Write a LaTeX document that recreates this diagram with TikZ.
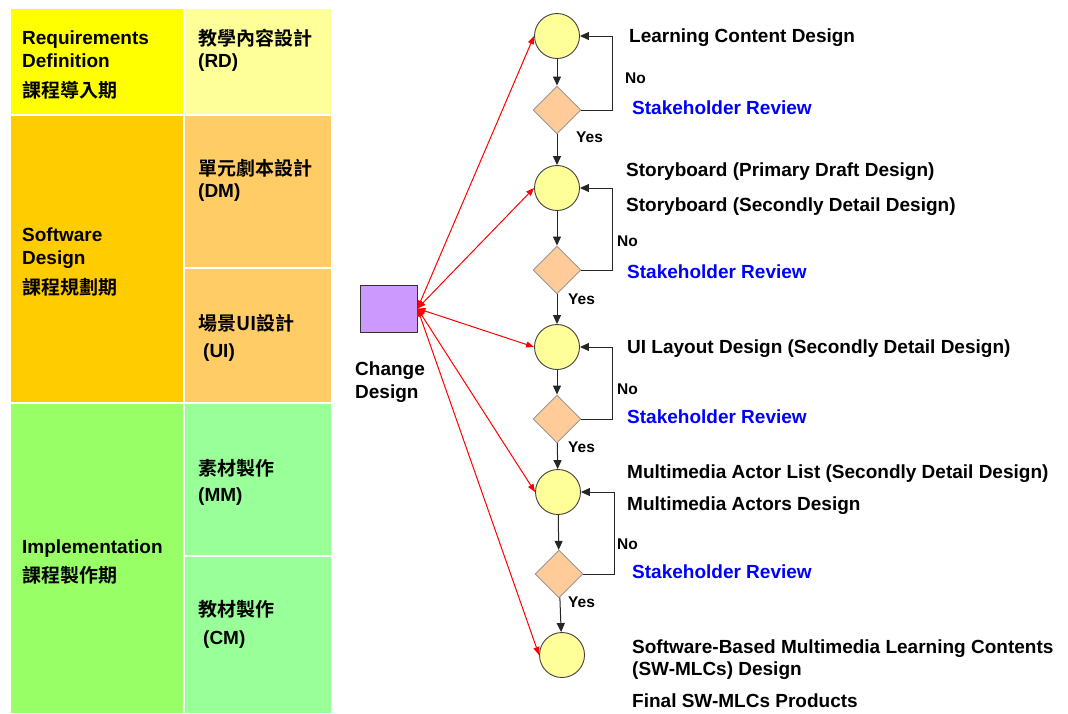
\documentclass[tikz,border=0pt]{standalone}
\usepackage{fontspec}
\setmainfont{Liberation Sans}
\newfontfamily\cjk{Noto Sans CJK TC}[BoldFont={Noto Sans CJK TC Bold}]
\usepackage{tikz}
\usetikzlibrary{positioning,arrows.meta,shapes.geometric}
\definecolor{phReq}{HTML}{FFFF00}
\definecolor{phReqSub}{HTML}{FFFF99}
\definecolor{phSw}{HTML}{FFCC00}
\definecolor{phSwSub}{HTML}{FFCC66}
\definecolor{phImp}{HTML}{99FF66}
\definecolor{phImpSub}{HTML}{99FF99}
\definecolor{fcPeach}{HTML}{FFCC99}
\definecolor{fcLilac}{HTML}{CC99FF}
\tikzset{
  fccell/.style={draw=white, line width=1.5pt},
  fclab/.style={anchor=base west, inner sep=0pt, font=\fontsize{19}{21}\selectfont\bfseries},
  fccjk/.style={anchor=base west, inner sep=0pt, font=\fontsize{19}{21}\selectfont\cjk\bfseries},
  fcsmall/.style={anchor=base west, inner sep=0pt, font=\fontsize{15.5}{17}\selectfont\bfseries},
  fcrev/.style={fclab, text=blue},
  fcstage/.style={circle, draw=black!75, fill=phReqSub, line width=0.9pt, minimum size=45pt,
                  inner sep=0pt},
  fccheck/.style={diamond, draw=black!40, fill=fcPeach, line width=0.9pt,
                  minimum width=48pt, minimum height=48pt, inner sep=0pt},
  fcflow/.style={draw=black!85, line width=1pt, -{Triangle[length=9pt,width=8pt]}},
  fcback/.style={draw=red, line width=1pt,
                 {Triangle[length=8pt,width=6pt]}-{Triangle[length=8pt,width=6pt]}},
}

\begin{document}
\begin{tikzpicture}[x=1pt,y=-1pt]
  \useasboundingbox[fill=white] (0,0) rectangle (1068,713);

  % phase table
  \filldraw[fccell, fill=phReq]    (10,8)    rectangle (184,115);
  \filldraw[fccell, fill=phReqSub] (184,8)   rectangle (332,115);
  \filldraw[fccell, fill=phSw]     (10,115)  rectangle (184,403);
  \filldraw[fccell, fill=phSwSub]  (184,115) rectangle (332,268);
  \filldraw[fccell, fill=phSwSub]  (184,268) rectangle (332,403);
  \filldraw[fccell, fill=phImp]    (10,403)  rectangle (184,714);
  \filldraw[fccell, fill=phImpSub] (184,403) rectangle (332,556);
  \filldraw[fccell, fill=phImpSub] (184,556) rectangle (332,714);

  \node[fclab] (rq1) at (22,44) {Requirements};
  \node[fclab] (rq2) at (22,67) {Definition};
  \node[fccjk] (rq3) at (22,97) {課程導入期};
  \node[fccjk] (rd1) at (198,45) {教學內容設計};
  \node[fclab] (rd2) at (198,67) {(RD)};

  \node[fclab] (sw1) at (22,241) {Software};
  \node[fclab] (sw2) at (22,264) {Design};
  \node[fccjk] (sw3) at (22,294) {課程規劃期};
  \node[fccjk] (dm1) at (198,175) {單元劇本設計};
  \node[fclab] (dm2) at (198,197) {(DM)};
  \node[fccjk] (ui1) at (198,330) {場景UI設計};
  \node[fclab] (ui2) at (203,357) {(UI)};

  \node[fclab] (im1) at (22,553) {Implementation};
  \node[fccjk] (im2) at (22,582) {課程製作期};
  \node[fccjk] (mm1) at (198,475) {素材製作};
  \node[fclab] (mm2) at (198,501) {(MM)};
  \node[fccjk] (cm1) at (198,616) {教材製作};
  \node[fclab] (cm2) at (203,644) {(CM)};

  % flow of stages and reviews
  \node[fcstage] (c1) at (557,36)  {};
  \node[fccheck] (d1) at (557,110) {};
  \node[fcstage] (c2) at (557,188) {};
  \node[fccheck] (d2) at (557,270) {};
  \node[fcstage] (c3) at (557,347) {};
  \node[fccheck] (d3) at (557,419) {};
  \node[fcstage] (c4) at (558,492) {};
  \node[fccheck] (d4) at (559,574) {};
  \node[fcstage] (c5) at (562,655) {};

  \draw[fcflow] (c1) -- (d1);
  \draw[fcflow] (d1) -- (c2);
  \draw[fcflow] (c2) -- (d2);
  \draw[fcflow] (d2) -- (c3);
  \draw[fcflow] (c3) -- (d3);
  \draw[fcflow] (d3) -- (c4);
  \draw[fcflow] (c4) -- (d4);
  \draw[fcflow] (d4) -- (c5);
  \draw[fcflow] (d1.east) -- ++(31,0) |- (c1.east);
  \draw[fcflow] (d2.east) -- ++(31,0) |- (c2.east);
  \draw[fcflow] (d3.east) -- ++(31,0) |- (c3.east);
  \draw[fcflow] (d4.east) -- ++(31,0) |- (c4.east);

  \node[fcsmall] (n1) at (625,83)  {No};
  \node[fcsmall] (n2) at (617,246) {No};
  \node[fcsmall] (n3) at (617,394) {No};
  \node[fcsmall] (n4) at (617,549) {No};
  \node[fcsmall] (y1) at (576,142) {Yes};
  \node[fcsmall] (y2) at (568,304) {Yes};
  \node[fcsmall] (y3) at (568,452) {Yes};
  \node[fcsmall] (y4) at (568,607) {Yes};

  \node[fclab] (t1)  at (629,42)  {Learning Content Design};
  \node[fcrev] (r1)  at (632,114) {Stakeholder Review};
  \node[fclab] (t2a) at (626,176) {Storyboard (Primary Draft Design)};
  \node[fclab] (t2b) at (626,211) {Storyboard (Secondly Detail Design)};
  \node[fcrev] (r2)  at (627,278) {Stakeholder Review};
  \node[fclab] (t3)  at (627,353) {UI Layout Design (Secondly Detail Design)};
  \node[fcrev] (r3)  at (627,423) {Stakeholder Review};
  \node[fclab] (t4a) at (627,478) {Multimedia Actor List (Secondly Detail Design)};
  \node[fclab] (t4b) at (627,510) {Multimedia Actors Design};
  \node[fcrev] (r4)  at (632,578) {Stakeholder Review};
  \node[fclab] (t5a) at (632,653) {Software-Based Multimedia Learning Contents};
  \node[fclab] (t5b) at (632,675) {(SW-MLCs) Design};
  \node[fclab] (t5c) at (632,707) {Final SW-MLCs Products};

  % change design box
  \node[draw=black!80, fill=fcLilac, line width=0.9pt, minimum width=57pt,
        minimum height=47pt, inner sep=0pt] (cd) at (388.5,308.5) {};
  \node[fclab] (cdl1) at (355,375) {Change};
  \node[fclab] (cdl2) at (355,398) {Design};
  \foreach \c in {c1,c2,c3,c4,c5}
    \draw[fcback] (cd.east) -- (\c.west);
\end{tikzpicture}
\end{document}
